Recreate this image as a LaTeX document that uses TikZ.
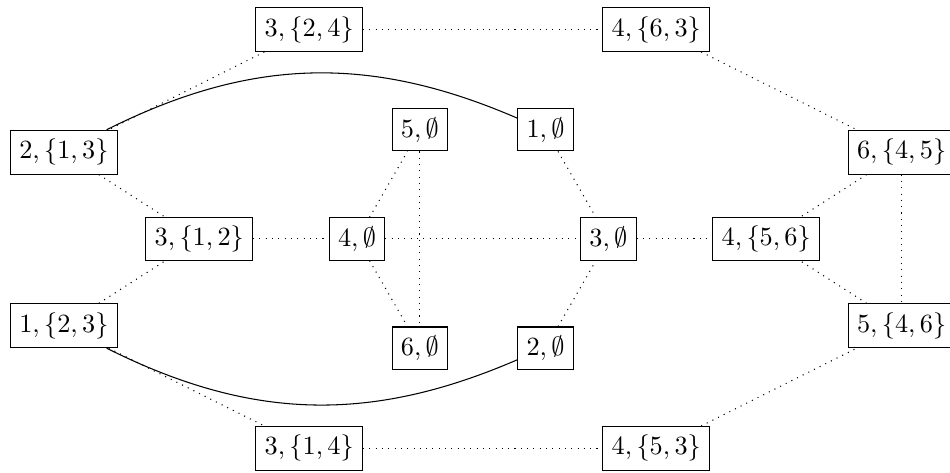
\documentclass[tikz,border=0pt]{standalone}
\usepackage{amssymb, amsmath}
\usepackage{tikz}
\usetikzlibrary{positioning}

\begin{document}
\begin{tikzpicture}[box/.style={draw, rectangle}, link/.style={dotted}]
            \useasboundingbox (-6.454,-3.128) rectangle (6.247,3.195);
            \node[box] (T1) at (-2.32, 2.80) {$3,\{2,4\}$};
            \node[box] (T2) at (2.32, 2.80) {$4,\{6,3\}$};
            \node[box] (L1) at (-5.60, 1.16) {$2,\{1,3\}$};
            \node[box] (R1) at (5.60, 1.16) {$6,\{4,5\}$};
            \node[box] (C5) at (-0.84, 1.46) {$5,\emptyset$};
            \node[box] (C1) at (0.84, 1.46) {$1,\emptyset$};
            \node[box] (M1) at (-3.79, 0) {$3,\{1,2\}$};
            \node[box] (C4) at (-1.68, 0) {$4,\emptyset$};
            \node[box] (C3) at (1.68, 0) {$3,\emptyset$};
            \node[box] (M2) at (3.79, 0) {$4,\{5,6\}$};
            \node[box] (L2) at (-5.60, -1.16) {$1,\{2,3\}$};
            \node[box] (R2) at (5.60, -1.16) {$5,\{4,6\}$};
            \node[box] (C6) at (-0.84, -1.46) {$6,\emptyset$};
            \node[box] (C2) at (0.84, -1.46) {$2,\emptyset$};
            \node[box] (B1) at (-2.32, -2.80) {$3,\{1,4\}$};
            \node[box] (B2) at (2.32, -2.80) {$4,\{5,3\}$};
            
            % outer ring
            \draw[link] (T1)--(T2);
            \draw[link] (T1)--(L1);
            \draw[link] (T2)--(R1);
            \draw[link] (L1)--(M1);
            \draw[link] (L2)--(M1);
            \draw[link] (L2)--(B1);
            \draw[link] (B1)--(B2);
            \draw[link] (B2)--(R2);
            \draw[link] (R1)--(M2);
            \draw[link] (R2)--(M2);
            \draw[link] (R1)--(R2);
            
            % inner part
            \draw[link] (M1)--(C4);
            \draw[link] (C4)--(C3);
            \draw[link] (C3)--(M2);
            \draw[link] (C4)--(C5);
            \draw[link] (C4)--(C6);
            \draw[link] (C5)--(C6);
            \draw[link] (C1)--(C3);
            \draw[link] (C2)--(C3);
            
            \draw (L1) to[bend left=25] (C1);
            \draw (L2) to[bend right=25] (C2);
        \end{tikzpicture}
\end{document}
